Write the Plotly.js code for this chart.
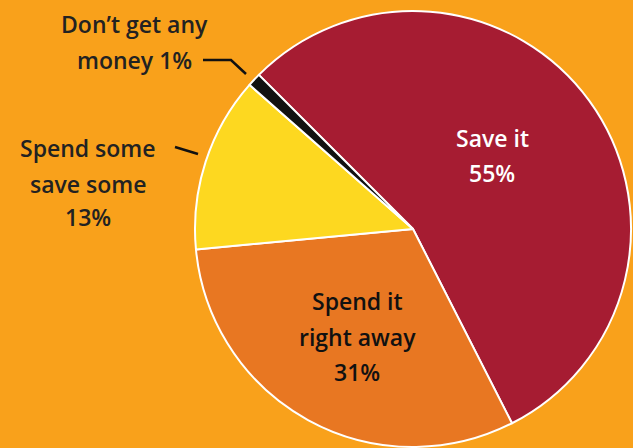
<!DOCTYPE html>
<html><head><meta charset="utf-8">
<script src="https://cdn.plot.ly/plotly-3.0.1.min.js"></script>
<style>html,body{margin:0;padding:0;background:#F9A11B}</style>
</head><body><div id="chart" style="width:633px;height:448px"></div>
<script>
const labels = ["Save it", "Spend it right away", "Spend some save some", "Don\u2019t get any money"];
const values = [55, 31, 13, 1];
const colors = ["#A61C32", "#E87722", "#FDD820", "#111111"];
const labelLines = [["Save it", "55%"], ["Spend it", "right away", "31%"], ["Spend some", "save some", "13%"], ["Don\u2019t get any", "money 1%"]];

const W = 633, H = 448;
const font = "'Open Sans', 'Noto Sans', sans-serif";
function ann(text, px, py, color, anchor) {
  return {text: text, x: px / W, y: 1 - py / H, xref: 'paper', yref: 'paper', showarrow: false,
    xanchor: anchor || 'center', yanchor: 'middle', font: {family: font, size: 23, color: color, weight: 600}};
}
const anns = [];
const pos = [
  {x: 492, ys: [138, 173], color: '#ffffff'},
  {x: 357, ys: [301, 337, 372], color: '#111111'},
  {x: 88, ys: [148, 184, 217], color: '#222222'},
  {x: 134, ys: [24, 60], color: '#222222'}
];
labelLines.forEach((lines, i) => {
  lines.forEach((t, j) => anns.push(ann(t, pos[i].x, pos[i].ys[j], pos[i].color)));
});

const data = [{
  type: 'pie', labels: labels, values: values, sort: false, direction: 'clockwise', rotation: -45,
  marker: {colors: colors, line: {color: '#ffffff', width: 2}},
  textinfo: 'none', hoverinfo: 'label+percent', showlegend: false,
  domain: {x: [195 / W, 631 / W], y: [1 - 447 / H, 1 - 11 / H]}
}];
function px(x) { return x / W; }
function py(y) { return 1 - y / H; }
const layout = {
  width: W, height: H, margin: {l: 0, r: 0, t: 0, b: 0},
  paper_bgcolor: '#F9A11B', plot_bgcolor: '#F9A11B',
  annotations: anns,
  shapes: [
    {type: 'path', xref: 'paper', yref: 'paper',
     path: `M ${px(203)} ${py(60)} L ${px(231)} ${py(60)} L ${px(246)} ${py(74)}`,
     line: {color: '#111111', width: 2.5}},
    {type: 'line', xref: 'paper', yref: 'paper', x0: px(175), y0: py(147), x1: px(198), y1: py(154),
     line: {color: '#111111', width: 2.5}}
  ]
};
Plotly.newPlot('chart', data, layout, {displayModeBar: false, staticPlot: true});
</script></body></html>
